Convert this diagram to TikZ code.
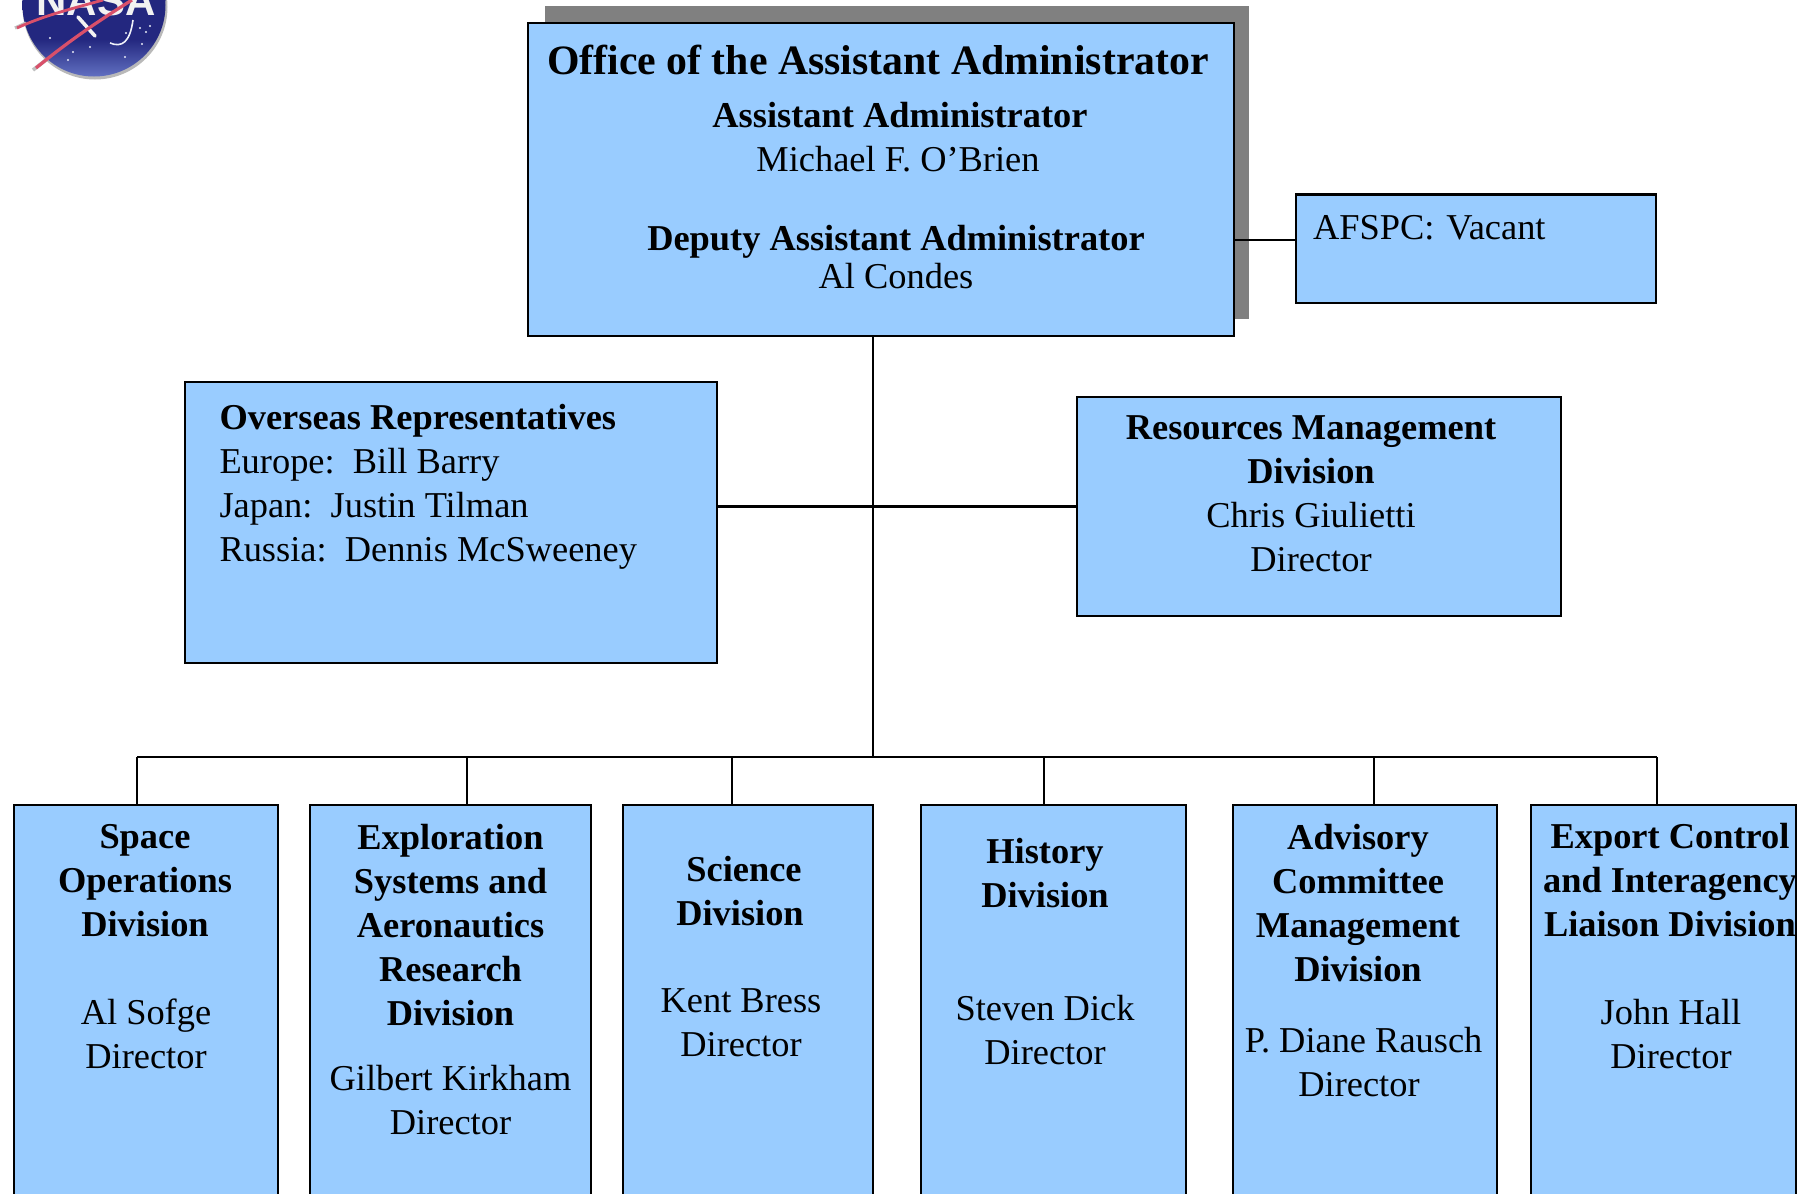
\documentclass[tikz,border=0pt]{standalone}
\usepackage{fontspec}
\setmainfont{Liberation Serif}
\newfontfamily\logofont{Liberation Sans}
\definecolor{boxblue}{HTML}{99CCFF}
\definecolor{shadowgrey}{HTML}{808080}
\definecolor{logodark}{HTML}{23277F}
\definecolor{logolight}{HTML}{6473C4}
\definecolor{logored}{HTML}{D9506A}
\newcommand{\bx}[5]{\node[bluebox,minimum width={(#4-#2)*0.5pt},minimum height={(#5-#3)*0.5pt}] (#1) at ({(#2+#4)/2},{(#3+#5)/2}) {};}
\newcommand{\sx}{\strut}
\tikzset{
  x=0.5pt,y=-0.5pt,
  bluebox/.style={draw=black,fill=boxblue,line width=1.1pt,inner sep=0pt,outer sep=0pt,rectangle},
  link/.style={draw=black,line width=1.1pt},
  txt/.style={inner sep=0pt,outer sep=0pt,align=center,font=\fontsize{18.2}{22}\selectfont},
  ltxt/.style={inner sep=0pt,outer sep=0pt,align=left,font=\fontsize{18.2}{22}\selectfont},
  star/.style={fill=white!85!logolight,circle,inner sep=0pt,minimum size=1.1pt}
}
\begin{document}
\begin{tikzpicture}
\clip (0,0) rectangle (1816,1194);
\fill[white] (0,0) rectangle (1816,1194);

% logo
\fill[gray!55] (95,7) circle (72.5);
\begin{scope}
\clip (94,5) circle (71.5);
\shade[top color=logodark,bottom color=logolight,middle color=logodark] (20,0) rectangle (170,78);
\fill[logodark] (20,-70) rectangle (170,1);
\end{scope}
\draw[white!90!logolight,line width=.8pt] (110,43) .. controls (122,48) and (130,42) .. (133,20);
\draw[white!90!gray,line width=1.8pt,line cap=round] (78,17) -- (95,36);
\node[star] (s1) at (50,38) {};
\node[star] (s2) at (68,60) {};
\node[star] (s3) at (140,28) {};
\node[star] (s4) at (146,32) {};
\node[star] (s5) at (142,44) {};
\node[star] (s6) at (126,33) {};
\node[star] (s7) at (73,52) {};
\node[star] (s8) at (90,47) {};
\node[star] (s9) at (125,57) {};
\node[star] (s10) at (150,26) {};
\node[inner sep=0pt,anchor=base,text=white!90!gray,font=\logofont\bfseries\fontsize{21}{21}\selectfont] (nasa) at (96,16) {NASA};
\draw[gray!50,line width=1.8pt] (33,70) -- (46,60);
\draw[gray!50,line width=1.6pt] (15,28) -- (26,23);
\draw[logored,line width=1.6pt] (36,68) .. controls (70,40) and (100,20) .. (132,0);
\draw[logored,line width=1.4pt] (17,28) .. controls (45,15) and (75,8) .. (103,0);

% boxes
\fill[shadowgrey] (545,6) rectangle (1249,319);
\bx{office}{528}{23}{1234}{336}
\bx{afspc}{1296}{194.5}{1656}{303}
\bx{overseas}{185}{382}{717}{663}
\bx{resources}{1077}{397}{1561}{616}
\bx{space}{14}{805}{278}{1300}
\bx{explore}{310}{805}{591}{1300}
\bx{science}{623}{805}{873}{1300}
\bx{history}{921}{805}{1186}{1300}
\bx{advisory}{1233}{805}{1497}{1300}
\bx{export}{1531}{805}{1796}{1300}

% connectors
\coordinate (bus) at (873,757);
\coordinate (afy) at (1296,240);
\coordinate (d1) at (137,757);
\coordinate (d2) at (467,757);
\coordinate (d3) at (732,757);
\coordinate (d4) at (1044,757);
\coordinate (d5) at (1374,757);
\coordinate (d6) at (1657,757);
\draw[link] (office.south -| bus) -- (bus);
\draw[link] (afy -| office.east) -- (afy);
\draw[link] (resources.west -| overseas.east) -- (resources.west);
\draw[link] (d1) -- (d6);
\draw[link] (d1) -- (d1 |- space.north);
\draw[link] (d2) -- (d2 |- explore.north);
\draw[link] (d3) -- (d3 |- science.north);
\draw[link] (d4) -- (d4 |- history.north);
\draw[link] (d5) -- (d5 |- advisory.north);
\draw[link] (d6) -- (d6 |- export.north);

% texts
\node[txt,font=\bfseries\fontsize{20.9}{26}\selectfont] (t0) at (878,60) {Office of the Assistant Administrator};
\node[txt] (t1) at (900,141) {\sx\textbf{Assistant Administrator}\\\sx\hspace*{-2pt}Michael F. O’Brien};
\node[txt] (t2) at (896,261) {\sx\textbf{Deputy Assistant Administrator}\\[-2.9pt]\sx Al Condes};
\node[ltxt,anchor=west] (t3) at (1313,231) {\sx AFSPC:\hspace{1.5pt} {V}acant};
\node[ltxt,anchor=west] (t4) at (219.5,487) {\sx\textbf{Overseas Representatives}\\\sx Europe:\ \ Bill Barry\\\sx Japan:\ \ Justin Tilman\\\sx Russia:\ \ Dennis McSweeney};
\node[txt] (t5) at (1311,497) {\sx\textbf{Resources Management}\\\sx\textbf{Division}\\\sx Chris Giulietti\\\sx Director};
\node[txt] (b1a) at (145,884) {\sx\textbf{Space}\\\sx\textbf{Operations}\\\sx\textbf{Division}};
\node[txt] (b1b) at (146,1038) {\sx Al Sofge\\\sx Director};
\node[txt] (b2a) at (450.5,929) {\sx\textbf{Exploration}\\\sx\textbf{Systems and}\\\sx\textbf{Aeronautics}\\\sx\textbf{Research}\\\sx\textbf{Division}};
\node[txt] (b2b) at (450.5,1104) {\sx Gilbert Kirkham\\\sx Director};
\node[txt] (b3a) at (740,895) {\sx\hspace*{4pt}\textbf{Science}\\\sx\textbf{Division}};
\node[txt] (b3b) at (741,1025.5) {\sx Kent Bress\\\sx Director};
\node[txt] (b4a) at (1045,877) {\sx\textbf{History}\\\sx\textbf{Division}};
\node[txt] (b4b) at (1045,1034) {\sx Steven Dick\\\sx Director};
\node[txt] (b5a) at (1358,907) {\sx\textbf{Advisory}\\\sx\textbf{Committee}\\\sx\textbf{Management}\\\sx\textbf{Division}};
\node[txt] (b5b) at (1359,1066) {\sx\hspace*{4.6pt}P. Diane Rausch\\\sx Director};
\node[txt] (b6a) at (1670,884) {\sx\textbf{Export Control}\\\sx\textbf{and Interagency}\\\sx\textbf{Liaison Division}};
\node[txt] (b6b) at (1671,1038) {\sx John Hall\\\sx Director};
\end{tikzpicture}
\end{document}
